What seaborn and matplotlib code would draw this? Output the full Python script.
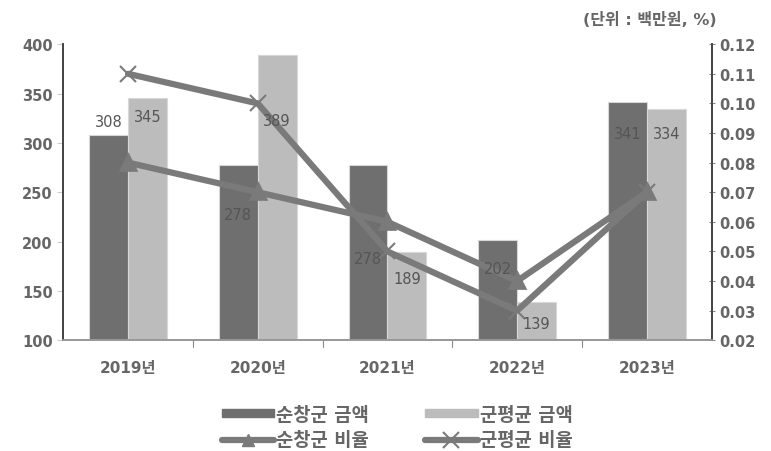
import pandas as pd
import matplotlib
matplotlib.use("Agg")
import matplotlib.pyplot as plt
import seaborn as sns
from matplotlib.patches import Patch
from matplotlib.lines import Line2D
from matplotlib.ticker import FormatStrFormatter, MultipleLocator

# --- data ---
years = ['2019년', '2020년', '2021년', '2022년', '2023년']
sunchang_amt = [308, 278, 278, 202, 341]
avg_amt = [345, 389, 189, 139, 334]
sunchang_ratio = [0.08, 0.07, 0.06, 0.04, 0.07]
avg_ratio = [0.11, 0.10, 0.05, 0.03, 0.07]
series_names = ['순창군 금액', '군평균 금액']
ratio_names = ['순창군 비율', '군평균 비율']

# label nudges (data units) so the numbers sit where the original has them
dark_nudge = [14, -51, -95, -29, -31]
light_nudge = [-18, -66, -26, -22, -24]

sns.set_theme(style='white')
plt.rcParams['font.family'] = ['DejaVu Sans', 'Noto Sans CJK KR']

dark = '#6f6f6f'
light = '#bcbcbc'
line_c = '#7a7a7a'
txt_c = '#666666'

df = pd.DataFrame({
    'year': years * 2,
    'value': sunchang_amt + avg_amt,
    'series': [series_names[0]] * 5 + [series_names[1]] * 5,
})

fig, ax = plt.subplots(figsize=(7.71, 4.52), dpi=100)
fig.subplots_adjust(left=0.082, right=0.923, top=0.90, bottom=0.245)

sns.barplot(data=df, x='year', y='value', hue='series', order=years,
            hue_order=series_names, palette=[dark, light], width=0.6,
            ax=ax, legend=False, edgecolor='#d8d8d8', linewidth=0.8)
ax.set_ylim(100, 400)
ax.yaxis.set_major_locator(MultipleLocator(50))
ax.set_xlim(-0.5, 4.5)
ax.set_xlabel('')
ax.set_ylabel('')

ax2 = ax.twinx()
sns.pointplot(x=years, y=sunchang_ratio, order=years, ax=ax2, color=line_c,
              markers='^', errorbar=None, linewidth=4.5, markersize=9)
sns.pointplot(x=years, y=avg_ratio, order=years, ax=ax2, color=line_c,
              markers='x', errorbar=None, linewidth=4.5, markersize=11,
              markeredgewidth=1.5)
ax2.set_ylim(0.02, 0.12)
ax2.yaxis.set_major_locator(MultipleLocator(0.01))
ax2.yaxis.set_major_formatter(FormatStrFormatter('%.2f'))
ax2.set_xlim(-0.5, 4.5)
ax2.set_ylabel('')

# data labels, drawn on the top axes so the lines don't hide them
for i, cont in enumerate(ax.containers):
    vals = sunchang_amt if i == 0 else avg_amt
    nudges = dark_nudge if i == 0 else light_nudge
    for bar, v, n in zip(cont, vals, nudges):
        ax2.text(bar.get_x() + bar.get_width() / 2, v + n, str(v),
                 transform=ax.transData, ha='center', va='center',
                 fontsize=10.5, color='#555555', zorder=10)

for a in (ax, ax2):
    a.spines['top'].set_visible(False)
    a.spines['left'].set_color('#444444')
    a.spines['right'].set_color('#444444')
    a.spines['bottom'].set_color('#999999')
    a.tick_params(axis='y', colors=txt_c, labelsize=10.5, length=4, width=0.8)
ax.tick_params(axis='y', direction='out', color='#cccccc')
ax2.tick_params(axis='y', direction='inout', color='#888888')
ax.tick_params(axis='x', colors=txt_c, labelsize=11, length=0, pad=14)
for t in ax.get_yticklabels() + ax2.get_yticklabels() + ax.get_xticklabels():
    t.set_fontweight('bold')

# small ticks between categories on the x axis
for xb in [0.5, 1.5, 2.5, 3.5]:
    ax.plot([xb, xb], [100, 93], color='#888888', lw=0.8, clip_on=False)

fig.text(0.93, 0.955, '(단위 : 백만원, %)', ha='right', va='center',
         fontsize=11.5, color=txt_c, fontweight='bold')

handles = [
    Patch(facecolor=dark, edgecolor=dark),
    Line2D([], [], color=line_c, lw=4.5, marker='^', markersize=9),
    Patch(facecolor=light, edgecolor=light),
    Line2D([], [], color=line_c, lw=4.5, marker='x', markersize=11, markeredgewidth=1.5),
]
labels = [series_names[0], ratio_names[0], series_names[1], ratio_names[1]]
leg = fig.legend(handles, labels, loc='center', bbox_to_anchor=(0.515, 0.053),
                 ncol=2, frameon=False, fontsize=13.5, handlelength=2.8,
                 handleheight=0.35, columnspacing=3.0, labelspacing=0.35,
                 handletextpad=0.1)
for t in leg.get_texts():
    t.set_color(txt_c)
    t.set_fontweight('bold')

fig.savefig('out.png', dpi=100)
